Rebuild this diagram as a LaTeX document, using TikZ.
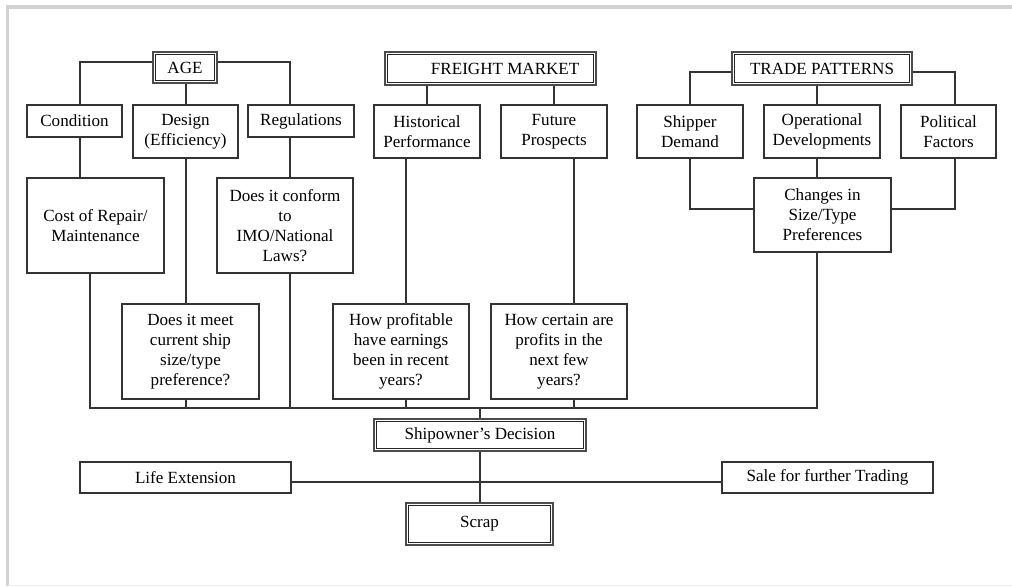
\documentclass[tikz,border=0pt]{standalone}
\usepackage{fontspec}
\setmainfont{Liberation Serif}
\usetikzlibrary{calc}
\tikzset{
  box/.style={draw=black!80, line width=0.8pt, fill=white, inner sep=0pt, align=center,
    font=\fontsize{12.8}{15}\selectfont},
  sz/.style 2 args={minimum width=#1*0.75pt, minimum height=#2*0.75pt},
  dbl/.style={box, draw=black!70, line width=2pt},
  innerline/.style={draw=black!85, line width=0.7pt},
  conn/.style={draw=black!80, line width=0.8pt},
  framel/.style={draw=gray!35},
}
\begin{document}
\begin{tikzpicture}[x=0.75pt,y=-0.75pt]
\useasboundingbox (0,0) rectangle (1012,586);
\fill[white] (0,0) rectangle (1012,586);
% frame
\draw[framel, line width=3pt] (6,7) -- (1012,7);
\draw[framel, line width=2.25pt] (7.5,5) -- (7.5,586);
\draw[draw=gray!15, line width=0.75pt] (7.5,585) -- (1012,585);

% column / row coordinates
\coordinate (cA) at (80,0);
\coordinate (cB) at (90,0);
\coordinate (cD) at (186,0);
\coordinate (cR) at (290,0);
\coordinate (cH) at (406,0);
\coordinate (cF1) at (427,0);
\coordinate (cS) at (480,0);
\coordinate (cF2) at (554,0);
\coordinate (cP) at (574,0);
\coordinate (cT1) at (690,0);
\coordinate (cT2) at (817,0);
\coordinate (cT3) at (955,0);
\coordinate (yA) at (0,62);
\coordinate (yT) at (0,72);
\coordinate (ySide) at (0,209);
\coordinate (yBus) at (0,408);
\coordinate (yL) at (0,482);

% heads
\node[dbl, sz={64}{31}] (age) at (185,67.5) {AGE};
\node[dbl, sz={211}{33}] (fm) at (490.5,68.5) {\hspace*{22pt}FREIGHT MARKET};
\node[dbl, sz={180}{33}] (tp) at (822,68.5) {TRADE PATTERNS};

% second row
\node[box, sz={95}{32}] (cond) at (74.5,121) {Condition};
\node[box, sz={105}{53}] (design) at (185.5,131.5) {Design\\(Efficiency)};
\node[box, sz={106}{32}] (regs) at (301,121) {Regulations};
\node[box, sz={106}{53}] (hist) at (427,131.5) {Historical\\Performance};
\node[box, sz={106}{53}] (fut) at (554,131.5) {Future\\Prospects};
\node[box, sz={106}{53}] (ship) at (690,131.5) {Shipper\\Demand};
\node[box, sz={116}{53}] (oper) at (822,131.5) {Operational\\Developments};
\node[box, sz={95}{53}] (pol) at (948.5,131.5) {Political\\Factors};

% third row
\node[box, sz={137}{95}] (cost) at (95.5,225.5) {Cost of Repair/\\Maintenance};
\node[box, sz={136}{95}] (conform) at (285,225.5) {Does it conform\\to\\IMO/National\\Laws?};
\node[box, sz={137}{74}] (changes) at (822.5,215) {Changes in\\Size/Type\\Preferences};

% fourth row
\node[box, sz={137}{95}] (meet) at (190.5,351.5) {Does it meet\\current ship\\size/type\\preference?};
\node[box, sz={136}{95}] (prof) at (401,351.5) {How profitable\\have earnings\\been in recent\\years?};
\node[box, sz={136}{95}] (cert) at (559,351.5) {How certain are\\profits in the\\next few\\years?};

% decision
\node[dbl, sz={212}{32}] (dec) at (480,435) {Shipowner’s Decision};
\node[box, sz={211}{31}] (life) at (185.5,477.5) {Life Extension};
\node[box, sz={211}{31}] (sale) at (827.5,477.5) {Sale for further Trading};
\node[dbl, sz={147}{42}] (scrap) at (479.5,524) {Scrap};

% inner lines of double boxes
\foreach \n in {age,fm,tp,dec,scrap}
  \draw[innerline] ([shift={(3.5,-3.5)}]\n.south west) rectangle ([shift={(-3.5,3.5)}]\n.north east);

% connectors: AGE
\draw[conn] (age.west |- yA) -| (cond.north -| cA);
\draw[conn] (age.east |- yA) -| (regs.north -| cR);
\draw[conn] (age.south -| cD) -- (design.north -| cD);
\draw[conn] (cond.south -| cA) -- (cost.north -| cA);
\draw[conn] (regs.south -| cR) -- (conform.north -| cR);
\draw[conn] (design.south -| cD) -- (meet.north -| cD);
% freight market
\draw[conn] (fm.south -| cF1) -- (hist.north -| cF1);
\draw[conn] (fm.south -| cF2) -- (fut.north -| cF2);
\draw[conn] (hist.south -| cH) -- (prof.north -| cH);
\draw[conn] (fut.south -| cP) -- (cert.north -| cP);
% trade patterns
\draw[conn] (tp.west |- yT) -| (ship.north -| cT1);
\draw[conn] (tp.east |- yT) -| (pol.north -| cT3);
\draw[conn] (tp.south -| cT2) -- (oper.north -| cT2);
\draw[conn] (oper.south -| cT2) -- (changes.north -| cT2);
\draw[conn] (ship.south -| cT1) |- (changes.west |- ySide);
\draw[conn] (pol.south -| cT3) |- (changes.east |- ySide);
% bus
\draw[conn] (cost.south -| cB) |- (yBus -| cT2) -- (changes.south -| cT2);
\draw[conn] (meet.south -| cD) -- (yBus -| cD);
\draw[conn] (conform.south -| cR) -- (yBus -| cR);
\draw[conn] (prof.south -| cH) -- (yBus -| cH);
\draw[conn] (cert.south -| cP) -- (yBus -| cP);
% decision
\draw[conn] (yBus -| cS) -- (dec.north -| cS);
\draw[conn] (dec.south -| cS) -- (scrap.north -| cS);
\draw[conn] (life.east |- yL) -- (sale.west |- yL);
\end{tikzpicture}
\end{document}
